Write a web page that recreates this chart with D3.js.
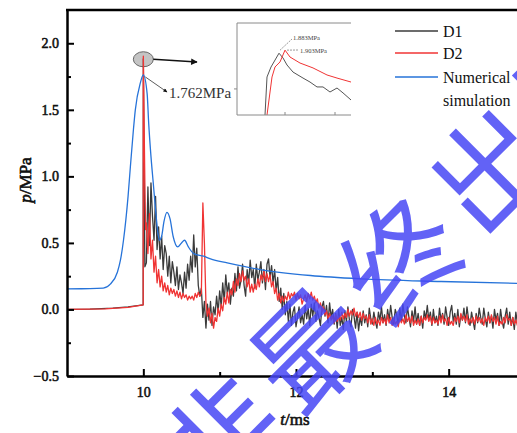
<!DOCTYPE html>
<html>
<head>
<meta charset="utf-8">
<script src="https://cdn.jsdelivr.net/npm/d3@7"></script>
<style>
  body { margin: 0; background: #fff; }
  svg { display: block; }
  svg text { font-family: "Liberation Serif", "Times New Roman", serif; }
  svg text.wm { font-family: "Noto Sans CJK SC", sans-serif; }
</style>
</head>
<body>
<div id="chart"></div>
<script>
// ---- data ----
var xTicks = [10, 12, 14];
var xMinorTicks = [11, 13];
var yTicks = [-0.5, 0.0, 0.5, 1.0, 1.5, 2.0];
var yMinorTicks = [-0.25, 0.25, 0.75, 1.25, 1.75];

var seriesNames = ["D1", "D2", "Numerical simulation"];

// numerical simulation [t (ms), p (MPa)]
var simData = [
  [9.0, 0.155], [9.3, 0.156], [9.475, 0.16], [9.567, 0.19], [9.66, 0.28], [9.70, 0.37],
  [9.74, 0.52], [9.80, 0.85], [9.83, 1.07], [9.87, 1.35], [9.895, 1.50], [9.96, 1.70],
  [10.0, 1.762], [10.05, 1.62], [10.07, 1.40], [10.10, 1.15], [10.13, 0.95], [10.16, 0.75],
  [10.19, 0.58], [10.21, 0.52], [10.24, 0.55], [10.27, 0.66], [10.31, 0.73], [10.35, 0.68],
  [10.39, 0.55], [10.45, 0.47], [10.50, 0.50], [10.54, 0.52], [10.59, 0.47], [10.66, 0.42],
  [10.79, 0.40], [10.88, 0.38], [11.1, 0.35], [11.53, 0.30], [12.19, 0.255], [12.85, 0.23],
  [13.9, 0.21], [15.0, 0.195]
];

// measured signals: start of record, then the sampled tail
var d1Head = [[9.0, 0.0], [9.3, 0.003], [9.6, 0.01], [9.8, 0.02], [9.998, 0.035],
  [10.0, 1.883], [10.01, 1.10], [10.02, 0.32]];
var d2Head = [[9.0, 0.0], [9.5, 0.005], [9.8, 0.015], [9.998, 0.035],
  [10.0, 1.903], [10.01, 1.40], [10.02, 0.95], [10.03, 0.60]];

var tailStart = 10.04;
var tailStep = 0.02;

var d1Tail = [
  0.35,0.92,0.48,0.95,0.70,0.52,0.85,0.45,0.62,0.38,
  0.55,0.30,0.48,0.42,0.25,0.40,0.20,0.36,0.28,0.18,
  0.32,0.15,0.26,0.20,0.12,0.28,0.16,0.34,0.22,0.40,
  0.28,0.56,0.32,0.46,0.18,0.10,0.16,-0.06,0.06,-0.14,
  0.04,-0.08,0.06,-0.12,0.02,-0.04,0.10,-0.02,0.14,0.02,
  0.20,0.06,0.26,0.12,0.20,0.04,0.16,0.10,0.27,0.14,
  0.32,0.16,0.22,0.34,0.18,0.10,0.30,0.20,0.37,0.24,
  0.30,0.16,0.34,0.22,0.28,0.36,0.20,0.30,0.15,0.34,
  0.38,0.24,0.33,0.20,0.30,0.14,0.24,0.06,0.16,0.00,
  0.12,-0.04,0.06,-0.09,0.04,-0.12,-0.02,0.02,-0.13,-0.06,
  0.02,-0.10,-0.04,-0.11,0.03,-0.07,0.01,-0.12,0.04,-0.05,
  0.05,-0.09,-0.01,-0.06,-0.12,0.02,0.06,-0.05,0.03,-0.10,
  0.05,-0.06,0.00,-0.11,-0.03,-0.14,0.00,-0.12,-0.06,-0.15,
  -0.01,-0.09,0.02,-0.08,-0.13,0.00,-0.05,-0.14,-0.02,-0.16,
  -0.06,-0.12,-0.01,-0.10,-0.04,-0.13,0.01,-0.07,-0.11,-0.02,
  -0.09,-0.14,-0.02,-0.08,0.02,-0.10,-0.04,-0.12,0.00,-0.08,
  0.03,-0.06,-0.11,0.00,-0.04,-0.12,0.01,-0.09,0.04,-0.05,
  -0.10,0.02,-0.06,-0.13,-0.01,-0.09,0.02,-0.11,-0.03,-0.12,
  -0.05,-0.14,-0.01,-0.07,0.03,-0.08,-0.02,-0.12,0.00,-0.10,
  -0.05,-0.12,0.01,-0.08,-0.03,-0.11,0.02,-0.06,-0.12,-0.02,
  0.03,-0.09,-0.03,-0.11,0.00,-0.13,-0.04,-0.08,0.01,-0.10,
  0.02,-0.07,-0.12,-0.02,-0.09,-0.15,-0.03,-0.10,0.01,-0.06,
  -0.11,0.01,-0.07,-0.13,-0.02,-0.10,-0.05,-0.14,0.00,-0.08,
  -0.03,-0.12,0.00,-0.09,-0.14,-0.05,0.01,-0.11,-0.02,-0.12,
  -0.06,-0.15,-0.02,-0.10,-0.04,-0.12,0.01,-0.09,-0.05
];

var d2Tail = [
  0.65,0.42,0.72,0.38,0.52,0.28,0.40,0.20,0.30,0.17,
  0.25,0.14,0.20,0.13,0.18,0.11,0.16,0.12,0.15,0.10,
  0.14,0.09,0.13,0.08,0.12,0.09,0.11,0.07,0.10,0.08,
  0.10,0.07,0.12,0.09,0.13,0.10,0.12,0.80,0.50,0.05,
  -0.05,0.01,-0.10,-0.03,-0.14,-0.06,-0.09,0.01,-0.05,0.04,
  -0.01,0.09,0.04,0.13,0.05,0.15,0.11,0.21,0.13,0.23,
  0.18,0.27,0.21,0.29,0.22,0.25,0.17,0.23,0.13,0.19,
  0.13,0.19,0.15,0.23,0.17,0.26,0.22,0.29,0.21,0.27,
  0.21,0.26,0.17,0.21,0.12,0.16,0.07,0.12,0.05,0.10,
  0.06,0.10,0.07,0.13,0.08,0.12,0.10,0.13,0.07,0.12,
  0.08,0.11,0.04,0.08,0.11,0.06,0.12,0.08,0.13,0.07,
  0.10,0.05,0.08,0.01,0.05,-0.02,0.02,-0.04,-0.01,-0.07,
  -0.03,-0.08,-0.05,-0.10,-0.04,-0.09,-0.05,-0.08,-0.02,-0.07,
  -0.03,-0.06,0.00,-0.05,-0.01,-0.04,0.01,-0.05,-0.02,-0.06,
  -0.02,-0.08,-0.03,-0.07,-0.05,-0.10,-0.04,-0.11,-0.07,-0.12,
  -0.06,-0.11,-0.08,-0.12,-0.06,-0.10,-0.07,-0.11,-0.04,-0.10,
  -0.06,-0.12,-0.07,-0.11,-0.09,-0.13,-0.06,-0.10,-0.07,-0.11,
  -0.04,-0.09,-0.06,-0.10,-0.05,-0.12,-0.08,-0.11,-0.07,-0.12,
  -0.05,-0.10,-0.06,-0.08,-0.04,-0.09,-0.05,-0.11,-0.06,-0.10,
  -0.08,-0.11,-0.05,-0.10,-0.04,-0.09,-0.07,-0.12,-0.06,-0.11,
  -0.09,-0.12,-0.06,-0.09,-0.05,-0.10,-0.03,-0.08,-0.05,-0.09,
  -0.04,-0.11,-0.07,-0.10,-0.06,-0.11,-0.05,-0.09,-0.06,-0.10,
  -0.07,-0.12,-0.06,-0.09,-0.05,-0.10,-0.04,-0.09,-0.06,-0.11,
  -0.05,-0.12,-0.09,-0.11,-0.06,-0.10,-0.04,-0.08,-0.07,-0.12,
  -0.06,-0.11,-0.08,-0.12,-0.05,-0.10,-0.06,-0.09,-0.05
];

// inset: zoom on the peaks
var insetD1 = [[9.980, 1.48], [9.982, 1.728], [9.986, 1.793], [9.994, 1.883], [9.998, 1.852],
  [10.002, 1.806], [10.008, 1.760], [10.018, 1.721], [10.025, 1.695], [10.032, 1.663],
  [10.038, 1.663], [10.045, 1.630], [10.052, 1.656], [10.058, 1.624], [10.066, 1.578]];
var insetD2 = [[9.982, 1.48], [9.987, 1.728], [9.990, 1.793], [9.995, 1.826], [10.000, 1.903],
  [10.005, 1.858], [10.015, 1.819], [10.028, 1.787], [10.042, 1.741], [10.052, 1.721],
  [10.066, 1.695]];
var insetXTicks = [10.0, 10.05];
var insetYTicks = [1.65];

var simPeak = 1.762;
var watermark = "非最终出版";

// ---- drawing ----
var W = 517, H = 433;
var colD1 = "#3b3b3b", colD2 = "#f03434", colSim = "#2673d9";

var svg = d3.select("#chart").append("svg").attr("width", W).attr("height", H);

var x = d3.scaleLinear().domain([9, 15]).range([67, 525]);
var y = d3.scaleLinear().domain([-0.5, 2.25]).range([376, 10]);

function tail(vals) {
  return vals.map(function(p, i) { return [tailStart + i * tailStep, p]; });
}
var d1 = d1Head.concat(tail(d1Tail));
var d2 = d2Head.concat(tail(d2Tail));

var defs = svg.append("defs");
defs.append("clipPath").attr("id", "plotClip")
  .append("rect").attr("x", 67).attr("y", 10).attr("width", 460).attr("height", 366);
defs.append("marker").attr("id", "arrow")
  .attr("viewBox", "0 0 10 10").attr("refX", 9).attr("refY", 5)
  .attr("markerWidth", 7).attr("markerHeight", 5).attr("orient", "auto")
  .append("path").attr("d", "M0,0 L10,5 L0,10 Z").attr("fill", "#111");

// grey marker around the measured peak
svg.append("ellipse")
  .attr("cx", x(10)).attr("cy", y(1.88)).attr("rx", 10).attr("ry", 7.5)
  .attr("fill", "#c4c4c4").attr("stroke", "#666").attr("stroke-width", 1);

var line = d3.line().x(function(d) { return x(d[0]); }).y(function(d) { return y(d[1]); });
var smooth = d3.line().curve(d3.curveMonotoneX)
  .x(function(d) { return x(d[0]); }).y(function(d) { return y(d[1]); });

var plot = svg.append("g").attr("clip-path", "url(#plotClip)");
plot.append("path").attr("d", line(d1)).attr("fill", "none")
  .attr("stroke", colD1).attr("stroke-width", 1.3).attr("stroke-linejoin", "round");
plot.append("path").attr("d", line(d2)).attr("fill", "none")
  .attr("stroke", colD2).attr("stroke-width", 1.3).attr("stroke-linejoin", "round");
plot.append("path").attr("d", smooth(simData)).attr("fill", "none")
  .attr("stroke", colSim).attr("stroke-width", 1.3);

// axes
svg.append("g").attr("transform", "translate(0,376)")
  .call(d3.axisBottom(x).tickValues(xTicks).tickFormat(d3.format("d"))
    .tickSizeInner(-7).tickSizeOuter(0).tickPadding(11));
svg.append("g").attr("transform", "translate(0,376)")
  .call(d3.axisBottom(x).tickValues(xMinorTicks).tickFormat("")
    .tickSizeInner(-4).tickSizeOuter(0))
  .select(".domain").remove();
svg.append("g").attr("transform", "translate(67,0)")
  .call(d3.axisLeft(y).tickValues(yTicks).tickFormat(d3.format(".1f"))
    .tickSizeInner(-7).tickSizeOuter(0).tickPadding(8));
svg.append("g").attr("transform", "translate(67,0)")
  .call(d3.axisLeft(y).tickValues(yMinorTicks).tickFormat("")
    .tickSizeInner(-4).tickSizeOuter(0))
  .select(".domain").remove();

svg.selectAll(".domain").attr("stroke", "#000").attr("stroke-width", 2.5);
svg.selectAll(".tick line").attr("stroke", "#000").attr("stroke-width", 2);
// heavy serif labels: regular face with a thin outline
svg.selectAll(".tick text")
  .style("font-size", "14px").attr("fill", "#111")
  .attr("stroke", "#111").attr("stroke-width", 0.55);

// top frame line
svg.append("line").attr("x1", 66).attr("x2", W).attr("y1", 10).attr("y2", 10)
  .attr("stroke", "#000").attr("stroke-width", 2.5);

// axis titles
var yt = svg.append("text").attr("transform", "translate(31,180) rotate(-90)")
  .attr("text-anchor", "middle").style("font-size", "17px")
  .attr("fill", "#111").attr("stroke", "#111").attr("stroke-width", 0.6);
yt.append("tspan").style("font-style", "italic").text("p");
yt.append("tspan").text("/MPa");
var xt = svg.append("text").attr("x", 295).attr("y", 425)
  .attr("text-anchor", "middle").style("font-size", "17px")
  .attr("fill", "#111").attr("stroke", "#111").attr("stroke-width", 0.6);
xt.append("tspan").style("font-style", "italic").text("t");
xt.append("tspan").text("/ms");

// annotations
svg.append("line").attr("x1", x(10) + 10).attr("y1", y(1.88))
  .attr("x2", 197).attr("y2", 62).attr("stroke", "#111").attr("stroke-width", 1.3)
  .attr("marker-end", "url(#arrow)");
svg.append("line").attr("x1", x(10) + 2).attr("y1", y(simPeak) + 2)
  .attr("x2", 167).attr("y2", 92).attr("stroke", "#333").attr("stroke-width", 0.8)
  .attr("marker-end", "url(#arrow)");
svg.append("text").attr("x", 169).attr("y", 98).style("font-size", "15px").attr("fill", "#333")
  .text(simPeak.toFixed(3) + "MPa");

// inset
var ix = d3.scaleLinear().domain([9.952, 10.066]).range([237, 351]);
var iy = d3.scaleLinear().domain([1.48, 2.08]).range([115, 23]);
var inset = svg.append("g");
inset.append("rect").attr("x", 237).attr("y", 23).attr("width", 114).attr("height", 92).attr("fill", "#fff");
defs.append("clipPath").attr("id", "insetClip")
  .append("rect").attr("x", 237).attr("y", 23).attr("width", 114).attr("height", 92);
var iline = d3.line().x(function(d) { return ix(d[0]); }).y(function(d) { return iy(d[1]); });
var ip = inset.append("g").attr("clip-path", "url(#insetClip)");
ip.append("path").attr("d", iline(insetD1)).attr("fill", "none").attr("stroke", "#555").attr("stroke-width", 1);
ip.append("path").attr("d", iline(insetD2)).attr("fill", "none").attr("stroke", colD2).attr("stroke-width", 1);
inset.append("path").attr("d", "M351,23H237V115H351").attr("fill", "none")
  .attr("stroke", "#8a8a8a").attr("stroke-width", 1);
inset.selectAll(".ixt").data(insetXTicks).join("line")
  .attr("x1", function(d) { return ix(d); }).attr("x2", function(d) { return ix(d); })
  .attr("y1", 115).attr("y2", 112).attr("stroke", "#8a8a8a");
inset.selectAll(".iyt").data(insetYTicks).join("line")
  .attr("y1", function(d) { return iy(d); }).attr("y2", function(d) { return iy(d); })
  .attr("x1", 234).attr("x2", 237).attr("stroke", "#8a8a8a");
inset.append("line").attr("x1", ix(9.994) + 1).attr("y1", iy(1.883) - 3)
  .attr("x2", 292).attr("y2", 39).attr("stroke", "#555").attr("stroke-width", 0.6)
  .attr("stroke-dasharray", "2,1");
inset.append("line").attr("x1", ix(10.0) + 2).attr("y1", iy(1.903))
  .attr("x2", 298).attr("y2", 50).attr("stroke", "#555").attr("stroke-width", 0.6)
  .attr("stroke-dasharray", "2,1");
inset.append("text").attr("x", 293).attr("y", 40).style("font-size", "6.5px").attr("fill", "#444")
  .text("1.883MPa");
inset.append("text").attr("x", 300).attr("y", 53).style("font-size", "6.5px").attr("fill", "#444")
  .text("1.903MPa");

// legend
var legendColors = [colD1, colD2, colSim];
var legendY = [31, 53, 77];
var lg = svg.append("g");
seriesNames.forEach(function(name, i) {
  lg.append("line").attr("x1", 395).attr("x2", 438).attr("y1", legendY[i]).attr("y2", legendY[i])
    .attr("stroke", legendColors[i]).attr("stroke-width", 1.3);
  var words = i === 2 ? name.split(" ") : [name];
  words.forEach(function(w, j) {
    lg.append("text").attr("x", 443).attr("y", legendY[i] + 6 + j * 23)
      .style("font-size", "16px").attr("fill", "#111").text(w);
  });
});

// watermark
svg.append("text").attr("class", "wm")
  .attr("transform", "translate(400,250) rotate(-45)")
  .attr("text-anchor", "middle").attr("dominant-baseline", "central")
  .style("font-size", "115px").attr("letter-spacing", 12)
  .attr("fill", "#4646f5").attr("fill-opacity", 0.85)
  .text(watermark);
</script>
</body>
</html>
